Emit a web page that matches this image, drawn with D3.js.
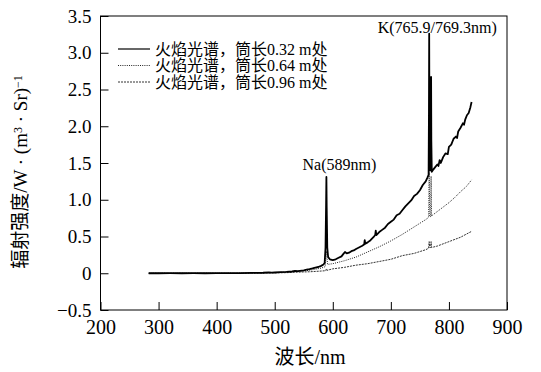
<!DOCTYPE html>
<html>
<head>
<meta charset="utf-8">
<script src="https://cdn.jsdelivr.net/npm/d3@7"></script>
<style>
  body { margin: 0; background: #fff; }
  svg { display: block; }
  text { font-family: 'Liberation Serif', serif; }
  .cjk { font-family: 'Liberation Serif', 'Noto Sans CJK SC', serif; }
</style>
</head>
<body>
<div class="chart"></div>
<script>
// flame spectra at three tube lengths (wavelength nm, radiance)
const wl1 = [283,300,320,340,360,380,400,420,440,460,480,490,495,500,510,520,530,535,540,550,555,560,565,570,575,580,584,586,587.5,588.5,589,589.5,590.5,592,595,600,605,610,615,618,621,624,628,632,636,640,645,650,654,655,656,660,665,670,673,674,675,680,685,690,695,700,705,710,715,720,725,730,735,740,745,750,755,760,763,765,765.6,766,766.4,767,768,768.9,769.3,769.7,770.5,773,776,780,782,784,786,790,794,798,800,804,808,812,814,816,820,824,826,828,831,834,837,839];
const s1  = [0,0,0.001,0,0.001,0,0.001,0.002,0.003,0.004,0.007,0.012,0.008,0.01,0.014,0.018,0.024,0.032,0.03,0.04,0.048,0.055,0.066,0.078,0.085,0.1,0.118,0.14,0.35,0.95,1.31,0.9,0.35,0.22,0.19,0.18,0.19,0.21,0.23,0.26,0.29,0.27,0.28,0.3,0.31,0.33,0.35,0.37,0.39,0.45,0.4,0.42,0.45,0.49,0.52,0.58,0.52,0.56,0.59,0.62,0.67,0.7,0.73,0.79,0.81,0.86,0.91,0.95,0.99,1.05,1.08,1.13,1.2,1.25,1.3,1.34,2.2,3.26,2.0,1.42,1.4,2.1,2.67,1.8,1.38,1.41,1.44,1.48,1.46,1.54,1.5,1.58,1.63,1.62,1.72,1.75,1.83,1.86,1.84,1.93,1.98,2.04,2.02,2.09,2.15,2.18,2.26,2.33];

const wl2 = [283,320,360,400,440,480,500,520,540,560,580,587,589,591,600,620,640,660,680,700,720,740,760,765,766,767,768.5,769.3,770,780,790,800,810,820,830,839];
const s2  = [0,0,0,0,0.002,0.005,0.01,0.015,0.025,0.04,0.07,0.09,0.3,0.12,0.13,0.17,0.22,0.29,0.36,0.44,0.53,0.63,0.73,0.76,1.38,0.77,0.77,1.32,0.78,0.84,0.9,0.96,1.03,1.11,1.18,1.27];

const wl3 = [283,320,360,400,440,480,500,520,540,560,580,588,589,590,600,620,640,660,680,700,720,740,760,765,766,767,768.5,769.3,770,780,800,820,839];
const s3  = [0,0,0,0,0,0.002,0.005,0.008,0.015,0.02,0.03,0.035,0.06,0.04,0.06,0.08,0.11,0.13,0.16,0.19,0.24,0.27,0.32,0.34,0.43,0.35,0.35,0.43,0.35,0.37,0.43,0.49,0.57];

const legendLabels = ['火焰光谱，筒长0.32 m处', '火焰光谱，筒长0.64 m处', '火焰光谱，筒长0.96 m处'];
const xTicks = [200, 300, 400, 500, 600, 700, 800, 900];
const yTicks = [-0.5, 0, 0.5, 1.0, 1.5, 2.0, 2.5, 3.0, 3.5];

const W = 541, H = 372;
const margin = { top: 16, right: 34, bottom: 62, left: 100.5 };
const width = W - margin.left - margin.right;
const height = H - margin.top - margin.bottom;

const svg = d3.select('.chart').append('svg')
  .attr('width', W)
  .attr('height', H);

const g = svg.append('g')
  .attr('transform', `translate(${margin.left},${margin.top})`);

const x = d3.scaleLinear().domain([200, 900]).range([0, width]);
const y = d3.scaleLinear().domain([-0.5, 3.5]).range([height, 0]);

const fmtY = d => d === 0 ? '0' : d3.format('.1f')(d).replace('-', '\u2212');

const xAxis = g.append('g')
  .attr('transform', `translate(0,${height})`)
  .call(d3.axisBottom(x).tickValues(xTicks).tickSizeInner(-8).tickSizeOuter(0).tickPadding(10).tickFormat(d3.format('d')))
  .call(a => a.select('.domain').remove());
xAxis.selectAll('text').attr('font-size', 20).attr('fill', '#000');

const yAxis = g.append('g')
  .call(d3.axisLeft(y).tickValues(yTicks).tickSizeInner(-8).tickSizeOuter(0).tickPadding(9).tickFormat(fmtY))
  .call(a => a.select('.domain').remove());
yAxis.selectAll('text').attr('font-size', 19).attr('fill', '#000');

g.selectAll('.tick line').attr('stroke', '#000');

g.append('rect')
  .attr('width', width)
  .attr('height', height)
  .attr('fill', 'none')
  .attr('stroke', '#000')
  .attr('stroke-width', 1);

const line = d3.line().x(d => x(d[0])).y(d => y(d[1]));

const series = [
  { wl: wl3, v: s3, w: 1, dash: '2,1', color: '#333' },
  { wl: wl2, v: s2, w: 1, dash: '1,1.2', color: '#222' },
  { wl: wl1, v: s1, w: 1.8, dash: null, color: '#000' }
];

series.forEach(s => {
  g.append('path')
    .datum(s.wl.map((w, i) => [w, s.v[i]]))
    .attr('d', line)
    .attr('fill', 'none')
    .attr('stroke', s.color)
    .attr('stroke-width', s.w)
    .attr('stroke-dasharray', s.dash)
    .attr('stroke-linejoin', 'round');
});

// peak annotations
g.append('text')
  .attr('x', x(589) + 13)
  .attr('y', y(1.31) - 7)
  .attr('text-anchor', 'middle')
  .attr('font-size', 16)
  .text('Na(589nm)');

g.append('text')
  .attr('x', x(766) + 8)
  .attr('y', y(3.26) - 1)
  .attr('text-anchor', 'middle')
  .attr('font-size', 16)
  .text('K(765.9/769.3nm)');

// legend
const legendStyles = [
  { w: 1.2, dash: null, color: '#000' },
  { w: 1, dash: '1,1.2', color: '#222' },
  { w: 1, dash: '2,1', color: '#333' }
];
const lg = svg.append('g').attr('transform', 'translate(118,49)');
legendLabels.forEach((t, i) => {
  const row = lg.append('g').attr('transform', `translate(0,${i * 16.5})`);
  row.append('line')
    .attr('x1', 0).attr('x2', 32)
    .attr('stroke', legendStyles[i].color)
    .attr('stroke-width', legendStyles[i].w)
    .attr('stroke-dasharray', legendStyles[i].dash);
  row.append('text')
    .attr('class', 'cjk')
    .attr('x', 37)
    .attr('y', 5.5)
    .attr('font-size', 16)
    .text(t);
});

// axis titles
svg.append('text')
  .attr('class', 'cjk')
  .attr('x', 310)
  .attr('y', 364)
  .attr('text-anchor', 'middle')
  .attr('font-size', 20)
  .text('波长/nm');

const yt = svg.append('text')
  .attr('class', 'cjk')
  .attr('transform', 'translate(27,172) rotate(-90)')
  .attr('text-anchor', 'middle')
  .attr('font-size', 19);
yt.append('tspan').text('辐射强度/W · (m');
yt.append('tspan').attr('baseline-shift', '45%').attr('font-size', 12).text('3');
yt.append('tspan').text(' · Sr)');
yt.append('tspan').attr('baseline-shift', '45%').attr('font-size', 12).text('−1');
</script>
</body>
</html>
